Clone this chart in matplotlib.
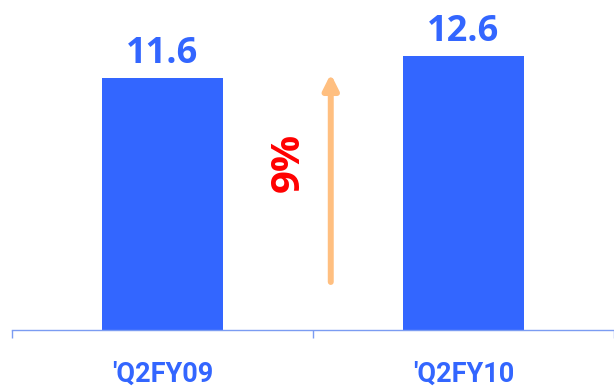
import matplotlib
matplotlib.use("Agg")
import matplotlib.pyplot as plt

categories = ["'Q2FY09", "'Q2FY10"]
values = [11.6, 12.6]
value_labels = ["11.6", "12.6"]
growth_label = "9%"

BLUE = "#3366ff"
AXIS = "#7b9cf2"
ARROW = "#ffbf80"

fig = plt.figure(figsize=(6.14, 3.88), dpi=100)
ax = fig.add_axes([12/614, 58/388, 602/614, 330/388])

x = list(range(len(categories)))
ax.bar(x, values, width=0.4, color=BLUE, zorder=2)

for xi, v, lab in zip(x, values, value_labels):
    ax.annotate(lab, (xi, v), xytext=(0, 11), textcoords="offset points",
                ha="center", va="baseline", fontsize=26, fontweight="bold",
                color=BLUE, family="Open Sans")

ax.set_xlim(-0.5, -0.5 + 602/305)
ax.set_ylim(0, 15.19)

for s in ["left", "right", "top"]:
    ax.spines[s].set_visible(False)
ax.spines["bottom"].set_color(AXIS)
ax.spines["bottom"].set_linewidth(1.0)

ax.set_yticks([])
ax.set_xticks(x)
ax.set_xticklabels(categories, fontsize=19.5, fontweight="bold", color=BLUE, family="Roboto")
ax.tick_params(axis="x", which="major", length=0, pad=22)
ax.set_xticks([-0.5, 0.5, 1.5], minor=True)
ax.tick_params(axis="x", which="minor", length=6, color=AXIS, width=1.0, direction="out")

# growth arrow
ax.annotate("", xy=(0.559, 11.79), xytext=(0.559, 2.21),
            arrowprops=dict(arrowstyle="-|>,head_length=0.9,head_width=0.45",
                            color=ARROW, lw=4.3, shrinkA=0, shrinkB=0))
ax.text(0.418, 7.69, growth_label, rotation=90, ha="center", va="center",
        fontsize=29, fontweight="bold", color="#ff0000", family="Open Sans")

fig.savefig("out.png", dpi=100)
